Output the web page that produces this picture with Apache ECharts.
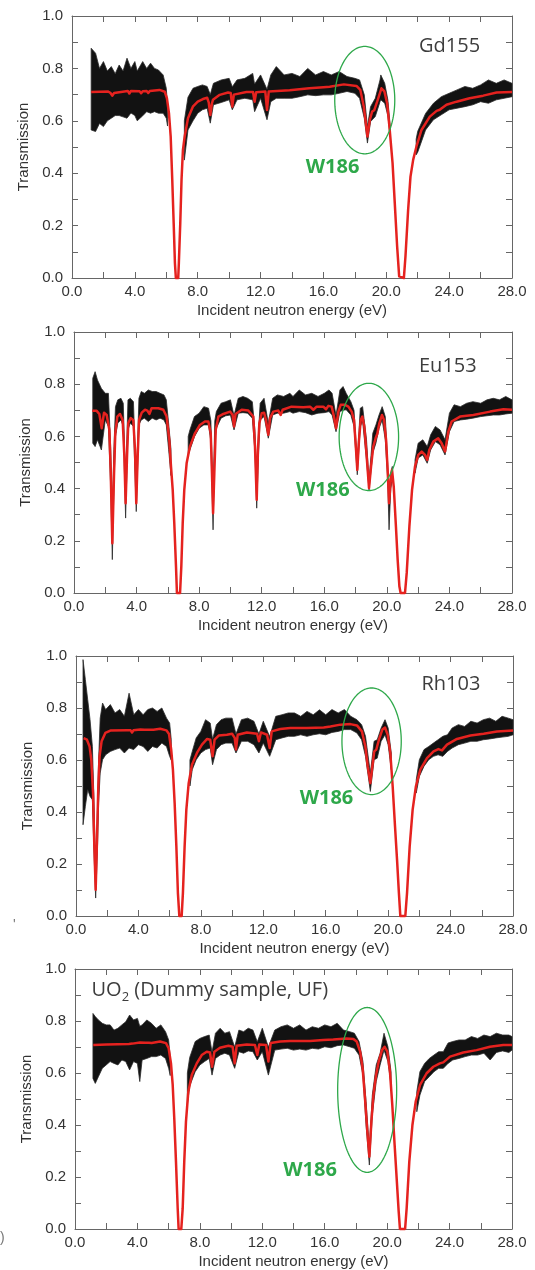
<!DOCTYPE html>
<html><head><meta charset="utf-8">
<script src="https://cdn.jsdelivr.net/npm/echarts@6/dist/echarts.min.js"></script>
<style>html,body{margin:0;padding:0;background:#fff}#c{width:535px;height:1270px}</style>
</head><body><div id="c"></div>
<script>
// ---------------- DATA ----------------
// [energy eV, transmission] of the red fitted curves
const gd155Fit = [[1.22,0.710],[2.3,0.712],[2.45,0.706],[2.56,0.696],[2.68,0.706],[2.8,0.712],[3.55,0.714],[3.65,0.704],[3.75,0.714],[4.3,0.713],[4.4,0.705],[4.5,0.713],[4.75,0.714],[4.85,0.706],[4.95,0.714],[5.57,0.718],[5.9,0.711],[6.04,0.686],[6.17,0.629],[6.28,0.540],[6.38,0.375],[6.47,0.210],[6.55,0.057],[6.61,0],[6.76,0],[6.8,0.057],[6.89,0.210],[6.97,0.375],[7.06,0.489],[7.17,0.540],[7.38,0.610],[7.69,0.654],[8.0,0.673],[8.33,0.683],[8.6,0.688],[8.7,0.670],[8.8,0.622],[8.9,0.665],[8.97,0.680],[9.4,0.699],[9.93,0.708],[10.1,0.706],[10.2,0.654],[10.3,0.700],[10.35,0.705],[11.1,0.710],[11.52,0.710],[11.62,0.673],[11.72,0.709],[12.3,0.712],[12.41,0.641],[12.52,0.712],[13.85,0.717],[15.1,0.724],[16.0,0.728],[16.4,0.730],[17.3,0.739],[18.1,0.733],[18.35,0.718],[18.57,0.654],[18.8,0.540],[18.95,0.603],[19.1,0.635],[19.23,0.640],[19.42,0.673],[19.69,0.724],[19.88,0.712],[20.05,0.667],[20.2,0.578],[20.4,0.438],[20.54,0.286],[20.69,0.121],[20.82,0.006],[20.86,0],[21.12,0],[21.22,0.082],[21.39,0.260],[21.54,0.387],[21.71,0.451],[21.92,0.502],[22.24,0.565],[22.77,0.616],[23.2,0.638],[23.3,0.632],[23.4,0.642],[23.83,0.661],[24.47,0.673],[25.3,0.686],[26.17,0.696],[27.02,0.708],[28.0,0.710]];
const eu153Fit = [[1.17,0.698],[1.45,0.698],[1.62,0.686],[1.77,0.631],[1.92,0.691],[2.09,0.682],[2.26,0.625],[2.35,0.459],[2.45,0.191],[2.56,0.459],[2.64,0.612],[2.77,0.676],[2.94,0.686],[3.11,0.663],[3.22,0.523],[3.3,0.344],[3.39,0.523],[3.47,0.651],[3.62,0.670],[3.79,0.663],[3.9,0.548],[3.98,0.344],[4.07,0.523],[4.16,0.663],[4.33,0.691],[4.54,0.702],[4.69,0.699],[4.82,0.686],[4.96,0.708],[5.39,0.708],[5.71,0.702],[5.92,0.676],[6.09,0.587],[6.2,0.485],[6.31,0.395],[6.41,0.268],[6.52,0.102],[6.58,0],[6.78,0],[6.86,0.102],[6.95,0.268],[7.05,0.395],[7.2,0.497],[7.41,0.561],[7.73,0.612],[8.05,0.644],[8.37,0.657],[8.59,0.657],[8.74,0.612],[8.82,0.459],[8.89,0.306],[8.97,0.459],[9.06,0.625],[9.23,0.676],[9.55,0.686],[9.98,0.695],[10.14,0.682],[10.23,0.638],[10.33,0.686],[10.72,0.702],[11.14,0.699],[11.46,0.676],[11.57,0.561],[11.68,0.357],[11.76,0.548],[11.85,0.651],[12.0,0.689],[12.15,0.691],[12.27,0.663],[12.42,0.606],[12.53,0.670],[12.74,0.695],[13.06,0.699],[13.21,0.682],[13.34,0.702],[13.9,0.714],[14.66,0.712],[15.09,0.714],[15.3,0.702],[15.51,0.714],[15.94,0.714],[16.11,0.704],[16.26,0.717],[16.47,0.714],[16.62,0.676],[16.75,0.631],[16.9,0.695],[17.05,0.721],[17.32,0.721],[17.54,0.714],[17.75,0.695],[17.9,0.663],[18.03,0.548],[18.11,0.472],[18.22,0.587],[18.33,0.663],[18.43,0.676],[18.56,0.638],[18.71,0.523],[18.86,0.402],[18.99,0.485],[19.13,0.561],[19.28,0.593],[19.39,0.610],[19.52,0.651],[19.69,0.682],[19.82,0.663],[19.95,0.587],[20.06,0.459],[20.14,0.344],[20.25,0.434],[20.33,0.472],[20.44,0.408],[20.58,0.255],[20.69,0.128],[20.8,0.026],[20.88,0],[21.16,0],[21.27,0.077],[21.44,0.255],[21.61,0.395],[21.8,0.485],[22.01,0.529],[22.23,0.542],[22.44,0.529],[22.58,0.510],[22.71,0.548],[22.97,0.580],[23.28,0.593],[23.5,0.574],[23.72,0.542],[23.93,0.618],[24.14,0.657],[24.68,0.676],[25.53,0.682],[26.6,0.695],[27.45,0.704],[28.0,0.702]];
const rh103Fit = [[0.49,0.684],[0.7,0.678],[0.87,0.652],[0.98,0.601],[1.09,0.473],[1.17,0.281],[1.26,0.101],[1.34,0.281],[1.43,0.499],[1.51,0.614],[1.64,0.672],[1.88,0.704],[2.2,0.713],[3.27,0.714],[3.5,0.714],[3.59,0.706],[3.68,0.714],[4.12,0.717],[4.4,0.716],[4.5,0.710],[4.6,0.716],[4.78,0.716],[4.87,0.710],[4.96,0.716],[5.4,0.720],[5.79,0.714],[5.96,0.700],[6.1,0.640],[6.21,0.563],[6.32,0.435],[6.43,0.268],[6.53,0.088],[6.62,0],[6.77,0],[6.85,0.088],[6.96,0.268],[7.07,0.409],[7.22,0.511],[7.43,0.582],[7.75,0.627],[8.07,0.659],[8.4,0.681],[8.6,0.678],[8.75,0.614],[8.88,0.678],[9.14,0.694],[9.67,0.697],[10.0,0.701],[10.17,0.685],[10.25,0.640],[10.36,0.697],[10.95,0.706],[11.6,0.701],[11.72,0.672],[11.85,0.706],[12.24,0.697],[12.41,0.646],[12.54,0.710],[13.09,0.719],[13.73,0.723],[14.8,0.723],[15.87,0.725],[16.3,0.729],[16.94,0.736],[17.58,0.738],[18.0,0.733],[18.32,0.710],[18.54,0.652],[18.69,0.576],[18.86,0.511],[18.99,0.576],[19.11,0.633],[19.24,0.640],[19.41,0.678],[19.63,0.717],[19.8,0.725],[19.97,0.697],[20.14,0.627],[20.29,0.499],[20.44,0.345],[20.57,0.217],[20.69,0.088],[20.78,0],[21.1,0],[21.21,0.088],[21.38,0.268],[21.57,0.409],[21.78,0.499],[22.06,0.563],[22.49,0.607],[22.91,0.633],[23.22,0.642],[23.45,0.637],[23.77,0.659],[24.41,0.681],[25.27,0.694],[26.12,0.701],[26.97,0.710],[28.0,0.713]];
const uo2Fit = [[1.17,0.708],[2.03,0.710],[3.45,0.712],[3.57,0.705],[3.68,0.713],[4.16,0.717],[4.52,0.716],[4.63,0.710],[4.74,0.716],[4.91,0.715],[5.45,0.721],[5.83,0.715],[6.0,0.695],[6.15,0.637],[6.26,0.554],[6.36,0.426],[6.47,0.259],[6.58,0.079],[6.64,0],[6.81,0],[6.9,0.079],[7.0,0.259],[7.11,0.413],[7.26,0.528],[7.48,0.592],[7.8,0.637],[8.12,0.669],[8.44,0.682],[8.65,0.679],[8.78,0.624],[8.93,0.682],[9.29,0.697],[9.83,0.705],[10.1,0.701],[10.23,0.637],[10.36,0.705],[11.0,0.710],[11.53,0.708],[11.68,0.669],[11.81,0.710],[12.24,0.708],[12.39,0.644],[12.54,0.715],[13.14,0.721],[13.78,0.723],[15.06,0.723],[15.91,0.727],[16.55,0.729],[17.4,0.733],[17.84,0.731],[18.05,0.721],[18.27,0.682],[18.43,0.618],[18.58,0.503],[18.73,0.374],[18.86,0.278],[18.99,0.413],[19.12,0.515],[19.29,0.592],[19.46,0.644],[19.67,0.688],[19.84,0.701],[20.01,0.682],[20.18,0.605],[20.33,0.477],[20.48,0.323],[20.61,0.195],[20.74,0.067],[20.82,0],[21.15,0],[21.25,0.079],[21.42,0.259],[21.62,0.400],[21.83,0.490],[22.11,0.554],[22.53,0.599],[22.96,0.624],[23.38,0.637],[23.6,0.641],[24.03,0.663],[24.88,0.679],[25.73,0.688],[26.59,0.701],[27.44,0.708],[28.0,0.708]];

// [energy eV, upper edge, lower edge] of the black measured-data band (null = gap)
const gd155Data = [[1.22,0.877,0.565],[1.5,0.858,0.559],[1.75,0.80,0.59],[2.0,0.826,0.578],[2.25,0.79,0.60],[2.5,0.807,0.610],[2.75,0.78,0.62],[3.0,0.813,0.620],[3.25,0.79,0.615],[3.5,0.839,0.610],[3.75,0.80,0.63],[4.0,0.826,0.62],[4.15,0.79,0.60],[4.5,0.826,0.619],[4.75,0.80,0.635],[5.0,0.820,0.629],[5.25,0.80,0.635],[5.5,0.794,0.629],[5.8,0.775,0.629],[6.0,0.724,0.610],[6.08,0.66,0.58],null,[7.15,0.60,0.45],[7.38,0.69,0.565],[7.7,0.724,0.600],[8.0,0.731,0.629],[8.3,0.737,0.642],[8.6,0.731,0.648],[8.8,0.70,0.591],[9.0,0.743,0.661],[9.5,0.756,0.670],[10.0,0.762,0.680],[10.2,0.73,0.642],[10.5,0.756,0.680],[11.0,0.762,0.686],[11.5,0.781,0.680],[11.62,0.74,0.635],[12.0,0.775,0.686],[12.41,0.72,0.604],[12.65,0.775,0.673],[13.0,0.807,0.686],[13.5,0.775,0.686],[14.0,0.781,0.686],[14.5,0.769,0.692],[15.0,0.800,0.699],[15.5,0.775,0.696],[16.0,0.788,0.699],[16.5,0.775,0.699],[17.0,0.788,0.705],[17.5,0.769,0.712],[18.0,0.762,0.705],[18.3,0.756,0.686],[18.6,0.699,0.610],[18.8,0.578,0.515],[19.0,0.654,0.597],[19.3,0.686,0.616],[19.6,0.756,0.673],[19.65,0.775,0.68],[19.9,0.743,0.667],[20.1,0.68,0.62],[20.25,0.58,0.54],null,[21.9,0.53,0.47],[22.0,0.56,0.48],[22.5,0.628,0.565],[23.0,0.667,0.604],[23.5,0.692,0.623],[24.0,0.705,0.642],[24.5,0.718,0.648],[25.0,0.731,0.654],[25.5,0.724,0.661],[26.0,0.737,0.673],[26.5,0.756,0.667],[27.0,0.743,0.680],[27.5,0.756,0.686],[28.0,0.743,0.692]];
const eu153Data = [[1.2,0.823,0.574],[1.35,0.848,0.561],[1.5,0.816,0.587],[1.75,0.784,0.548],[2.0,0.765,0.663],[2.2,0.765,0.638],[2.35,0.55,0.40],[2.45,0.30,0.128],[2.55,0.55,0.40],[2.65,0.714,0.599],[2.8,0.740,0.651],[3.0,0.746,0.663],[3.15,0.727,0.638],[3.3,0.42,0.287],[3.45,0.740,0.625],[3.6,0.746,0.651],[3.8,0.733,0.638],[3.98,0.40,0.312],[4.15,0.746,0.644],[4.3,0.772,0.663],[4.5,0.765,0.670],[4.75,0.778,0.657],[5.0,0.772,0.670],[5.25,0.772,0.663],[5.5,0.765,0.670],[5.75,0.759,0.663],[5.9,0.740,0.644],[6.05,0.65,0.55],[6.2,0.55,0.45],null,[7.3,0.60,0.53],[7.41,0.625,0.548],[7.7,0.676,0.599],[8.0,0.689,0.631],[8.3,0.714,0.644],[8.6,0.708,0.644],[8.75,0.66,0.58],[8.89,0.36,0.242],[9.0,0.66,0.58],[9.1,0.695,0.631],[9.4,0.727,0.670],[9.7,0.733,0.679],[10.0,0.740,0.682],[10.23,0.68,0.625],[10.5,0.746,0.689],[10.8,0.753,0.691],[11.1,0.746,0.689],[11.4,0.733,0.670],[11.57,0.62,0.54],[11.68,0.40,0.325],[11.8,0.62,0.54],[11.9,0.727,0.663],[12.15,0.746,0.676],[12.42,0.65,0.593],[12.7,0.746,0.682],[13.0,0.759,0.689],[13.4,0.753,0.689],[13.8,0.765,0.695],[14.0,0.753,0.689],[14.4,0.778,0.695],[14.8,0.759,0.691],[15.2,0.765,0.682],[15.6,0.753,0.689],[16.0,0.765,0.691],[16.3,0.778,0.695],[16.5,0.765,0.682],[16.75,0.68,0.618],[17.0,0.778,0.695],[17.2,0.791,0.70],[17.4,0.765,0.702],[17.7,0.733,0.682],[17.9,0.70,0.638],[18.11,0.50,0.453],[18.3,0.708,0.638],[18.45,0.714,0.657],[18.7,0.587,0.510],[18.86,0.43,0.395],[19.1,0.612,0.536],[19.3,0.644,0.574],[19.5,0.682,0.631],[19.7,0.714,0.663],[19.9,0.676,0.587],[20.05,0.50,0.44],[20.14,0.38,0.242],[20.25,0.46,0.40],[20.35,0.485,0.434],null,[21.8,0.51,0.459],[22.0,0.574,0.517],[22.3,0.587,0.529],[22.58,0.561,0.497],[22.8,0.606,0.548],[23.1,0.638,0.580],[23.4,0.625,0.568],[23.72,0.587,0.529],[24.0,0.689,0.618],[24.3,0.721,0.657],[24.7,0.714,0.663],[25.1,0.727,0.666],[25.5,0.733,0.670],[26.0,0.727,0.676],[26.4,0.740,0.679],[26.8,0.746,0.682],[27.2,0.740,0.682],[27.6,0.753,0.686],[28.0,0.740,0.689]];
const rh103Data = [[0.45,0.986,0.351],[0.6,0.909,0.422],[0.75,0.832,0.486],[0.9,0.755,0.460],[1.05,0.652,0.447],[1.15,0.45,0.25],[1.26,0.15,0.069],[1.37,0.40,0.25],[1.45,0.601,0.435],[1.55,0.761,0.550],[1.7,0.819,0.601],[1.9,0.794,0.620],[2.2,0.813,0.633],[2.5,0.781,0.640],[2.8,0.794,0.646],[3.1,0.768,0.627],[3.4,0.857,0.646],[3.7,0.774,0.640],[4.0,0.794,0.659],[4.3,0.774,0.652],[4.6,0.794,0.633],[4.9,0.800,0.652],[5.2,0.787,0.646],[5.5,0.800,0.665],[5.8,0.761,0.652],[6.0,0.742,0.614],[6.1,0.68,0.60],null,[7.3,0.60,0.50],[7.45,0.633,0.563],[7.7,0.685,0.601],[8.0,0.710,0.627],[8.3,0.755,0.640],[8.6,0.742,0.646],[8.75,0.68,0.582],[9.0,0.736,0.640],[9.3,0.755,0.659],[9.6,0.761,0.665],[10.0,0.761,0.665],[10.25,0.70,0.627],[10.6,0.755,0.672],[11.0,0.761,0.672],[11.4,0.749,0.659],[11.72,0.70,0.627],[12.0,0.749,0.665],[12.41,0.69,0.614],[12.8,0.768,0.678],[13.2,0.774,0.685],[13.6,0.781,0.691],[14.0,0.781,0.691],[14.4,0.768,0.697],[14.8,0.787,0.691],[15.2,0.774,0.697],[15.6,0.793,0.701],[16.0,0.774,0.697],[16.4,0.794,0.706],[16.8,0.781,0.710],[17.2,0.794,0.717],[17.6,0.768,0.717],[18.0,0.755,0.704],[18.3,0.736,0.678],[18.55,0.691,0.614],[18.86,0.550,0.479],[19.1,0.672,0.601],[19.3,0.678,0.607],[19.55,0.723,0.672],[19.8,0.755,0.697],[20.0,0.723,0.659],[20.2,0.627,0.563],null,[21.8,0.524,0.473],[22.0,0.601,0.537],[22.3,0.640,0.576],[22.6,0.652,0.601],[22.9,0.665,0.614],[23.2,0.678,0.620],[23.5,0.691,0.614],[23.8,0.697,0.633],[24.1,0.723,0.646],[24.5,0.736,0.659],[24.9,0.729,0.665],[25.3,0.749,0.672],[25.7,0.742,0.672],[26.1,0.755,0.678],[26.5,0.761,0.681],[26.9,0.749,0.685],[27.3,0.768,0.688],[27.7,0.761,0.691],[28.0,0.755,0.697]];
const uo2Data = [[1.15,0.829,0.579],[1.3,0.817,0.560],[1.5,0.804,0.586],[1.75,0.791,0.618],[2.0,0.785,0.631],[2.25,0.785,0.644],[2.5,0.765,0.637],[2.75,0.772,0.631],[3.0,0.785,0.650],[3.25,0.797,0.644],[3.5,0.823,0.612],[3.75,0.804,0.644],[4.0,0.810,0.637],[4.15,0.78,0.567],[4.3,0.785,0.650],[4.6,0.804,0.656],[4.9,0.791,0.663],[5.2,0.772,0.663],[5.5,0.785,0.669],[5.8,0.759,0.656],[6.0,0.727,0.618],[6.1,0.66,0.59],null,[7.2,0.60,0.48],[7.35,0.66,0.55],[7.7,0.721,0.605],[8.0,0.733,0.631],[8.3,0.740,0.644],[8.6,0.746,0.656],[8.78,0.68,0.592],[9.0,0.753,0.656],[9.3,0.772,0.669],[9.6,0.753,0.676],[9.9,0.759,0.669],[10.23,0.70,0.618],[10.5,0.765,0.682],[10.8,0.759,0.676],[11.1,0.772,0.685],[11.4,0.765,0.682],[11.68,0.72,0.650],[12.0,0.772,0.682],[12.39,0.70,0.592],[12.8,0.765,0.688],[13.2,0.778,0.692],[13.6,0.785,0.695],[14.0,0.772,0.688],[14.4,0.785,0.692],[14.8,0.765,0.688],[15.2,0.778,0.695],[15.6,0.772,0.692],[16.0,0.785,0.701],[16.4,0.778,0.697],[16.8,0.791,0.705],[17.2,0.765,0.708],[17.6,0.759,0.701],[17.9,0.753,0.695],[18.2,0.721,0.669],[18.45,0.644,0.592],[18.65,0.490,0.400],[18.86,0.31,0.246],[19.05,0.515,0.438],[19.3,0.631,0.567],[19.55,0.676,0.631],[19.8,0.753,0.688],[20.05,0.701,0.644],[20.25,0.605,0.554],null,[21.9,0.528,0.451],[22.1,0.605,0.515],[22.4,0.637,0.567],[22.7,0.656,0.586],[23.0,0.669,0.605],[23.3,0.682,0.618],[23.6,0.682,0.618],[23.9,0.715,0.637],[24.2,0.721,0.650],[24.6,0.727,0.656],[25.0,0.727,0.663],[25.4,0.740,0.669],[25.8,0.733,0.669],[26.2,0.746,0.676],[26.6,0.740,0.650],[27.0,0.753,0.679],[27.4,0.746,0.685],[27.8,0.746,0.679],[28.0,0.740,0.688]];

const sampleNames = ['Gd155', 'Eu153', 'Rh103', 'UO2 (Dummy sample, UF)'];
const xTickValues = [0, 4, 8, 12, 16, 20, 24, 28];
const yTickValues = [0, 0.2, 0.4, 0.6, 0.8, 1.0];
const xAxisTitle = 'Incident neutron energy (eV)';
const yAxisTitle = 'Transmission';
const peakLabel = 'W186';
// W186 ellipse annotations: [centre energy, centre transmission, half-width eV, half-height]
const w186Rings = [[18.63,0.679,1.91,0.205],[18.85,0.598,1.90,0.2055],[18.94,0.672,1.90,0.205],[18.72,0.535,1.89,0.317]];
const w186Anchors = [[14.87,0.423],[14.19,0.393],[14.33,0.452],[13.34,0.225]];

// ---------------- LAYOUT / STYLE ----------------
const grids = [
  {left:72, top:16, width:440, height:262},
  {left:74, top:332, width:438, height:261},
  {left:76, top:656, width:437, height:260},
  {left:75, top:969, width:437, height:260}
];
const fits = [gd155Fit, eu153Fit, rh103Fit, uo2Fit];
const bands = [gd155Data, eu153Data, rh103Data, uo2Data];
const frameColor = '#666';
const textColor = '#333';
const axisFont = '"Liberation Sans", Arial, sans-serif';
const green = '#2ea84a';
const red = '#e5221f';

const xAxes = [], yAxes = [], series = [];
grids.forEach((g, i) => {
  const common = {gridIndex:i, type:'value', min:0, max:28, interval:4,
    axisLine:{show:true, onZero:false, lineStyle:{color:frameColor, width:1}},
    axisTick:{show:true, inside:true, length:6, lineStyle:{color:frameColor}},
    minorTick:{show:true, splitNumber:2, length:6, lineStyle:{color:frameColor}},
    splitLine:{show:false}};
  xAxes.push(Object.assign({}, common, {position:'bottom',
    axisLabel:{show:true, margin:6, fontSize:15, color:textColor, fontFamily:axisFont,
      formatter: v => xTickValues.indexOf(v) >= 0 ? v.toFixed(1) : ''},
    name:xAxisTitle, nameLocation:'middle', nameGap:25,
    nameTextStyle:{fontSize:15, color:textColor, fontFamily:axisFont}}));
  xAxes.push(Object.assign({}, common, {position:'top', axisLabel:{show:false}}));
  const ycommon = {gridIndex:i, type:'value', min:0, max:1, interval:0.2,
    axisLine:{show:true, onZero:false, lineStyle:{color:frameColor, width:1}},
    axisTick:{show:true, inside:true, length:6, lineStyle:{color:frameColor}},
    minorTick:{show:true, splitNumber:2, length:6, lineStyle:{color:frameColor}},
    splitLine:{show:false}};
  yAxes.push(Object.assign({}, ycommon, {position:'left',
    axisLabel:{show:true, margin:9, fontSize:15, color:textColor, fontFamily:axisFont,
      formatter: v => yTickValues.some(t => Math.abs(t - v) < 1e-9) ? v.toFixed(1) : ''},
    name:yAxisTitle, nameLocation:'middle', nameGap:41,
    nameTextStyle:{fontSize:15, color:textColor, fontFamily:axisFont}}));
  yAxes.push(Object.assign({}, ycommon, {position:'right', axisLabel:{show:false}}));

  const band = bands[i];
  series.push({
    type:'custom', xAxisIndex:2*i, yAxisIndex:2*i, z:2, silent:true,
    data:[[0,0]],
    renderItem:(params, api) => {
      const children = [];
      let seg = [];
      const flush = () => {
        if (seg.length > 1) {
          const pts = seg.map(p => api.coord([p[0], p[1]]));
          for (let k = seg.length - 1; k >= 0; k--) pts.push(api.coord([seg[k][0], seg[k][2]]));
          children.push({type:'polygon', shape:{points:pts},
            style:{fill:'#121212', stroke:'#2b2b2b', lineWidth:0.8, lineJoin:'miter'}});
        }
        seg = [];
      };
      band.forEach(p => { if (p == null) flush(); else seg.push(p); });
      flush();
      return {type:'group', children};
    }
  });
  series.push({
    type:'line', xAxisIndex:2*i, yAxisIndex:2*i, z:3, data:fits[i],
    showSymbol:false, clip:false, silent:true,
    lineStyle:{color:red, width:2.5, join:'round'}
  });
  const ring = w186Rings[i], anc = w186Anchors[i];
  series.push({
    type:'custom', xAxisIndex:2*i, yAxisIndex:2*i, z:4, silent:true,
    data:[[0,0]],
    renderItem:(params, api) => {
      const c = api.coord([ring[0], ring[1]]);
      const s = api.size([ring[2], ring[3]]);
      const pts = [];
      for (let k = 0; k < 160; k++) {
        const a = k / 160 * Math.PI * 2;
        pts.push([c[0] + s[0] * Math.cos(a), c[1] + s[1] * Math.sin(a)]);
      }
      const t = api.coord([anc[0], anc[1]]);
      return {type:'group', children:[
        {type:'polygon', shape:{points:pts}, style:{fill:'none', stroke:green, lineWidth:1.3}},
        {type:'text', x:t[0], y:t[1], style:{text:peakLabel, fill:green,
          font:'bold 20px "Open Sans", sans-serif', align:'left', verticalAlign:'middle'}}
      ]};
    }
  });
});

// sample name labels
const labelFont = '20px "Open Sans", sans-serif';
const meas = document.createElement('canvas').getContext('2d');
meas.font = labelFont;
const wUO = meas.measureText('UO').width;
meas.font = '13px "Open Sans", sans-serif';
const w2 = meas.measureText('2').width;
const graphic = [
  {type:'text', x:419, y:46, style:{text:sampleNames[0], font:labelFont, fill:'#3d3d3d', align:'left', verticalAlign:'middle'}},
  {type:'text', x:419, y:366.5, style:{text:sampleNames[1], font:labelFont, fill:'#3d3d3d', align:'left', verticalAlign:'middle'}},
  {type:'text', x:421.5, y:684, style:{text:sampleNames[2], font:labelFont, fill:'#3d3d3d', align:'left', verticalAlign:'middle'}},
  {type:'text', x:91.5, y:990, style:{text:'UO', font:labelFont, fill:'#3d3d3d', align:'left', verticalAlign:'middle'}},
  {type:'text', x:91.5 + wUO, y:997, style:{text:'2', font:'13px "Open Sans", sans-serif', fill:'#3d3d3d', align:'left', verticalAlign:'middle'}},
  {type:'text', x:91.5 + wUO + w2, y:990, style:{text:' (Dummy sample, UF)', font:labelFont, fill:'#3d3d3d', align:'left', verticalAlign:'middle'}},
  {type:'text', x:13, y:925, style:{text:"'", font:'14px ' + axisFont, fill:'#777', align:'left', verticalAlign:'middle'}},
  {type:'text', x:0, y:1238, style:{text:')', font:'14px ' + axisFont, fill:'#777', align:'left', verticalAlign:'middle'}}
];

const chart = echarts.init(document.getElementById('c'), null, {renderer:'canvas'});
chart.setOption({
  animation:false,
  backgroundColor:'#fff',
  grid:grids,
  xAxis:xAxes,
  yAxis:yAxes,
  series:series,
  graphic:graphic
});
</script></body></html>
